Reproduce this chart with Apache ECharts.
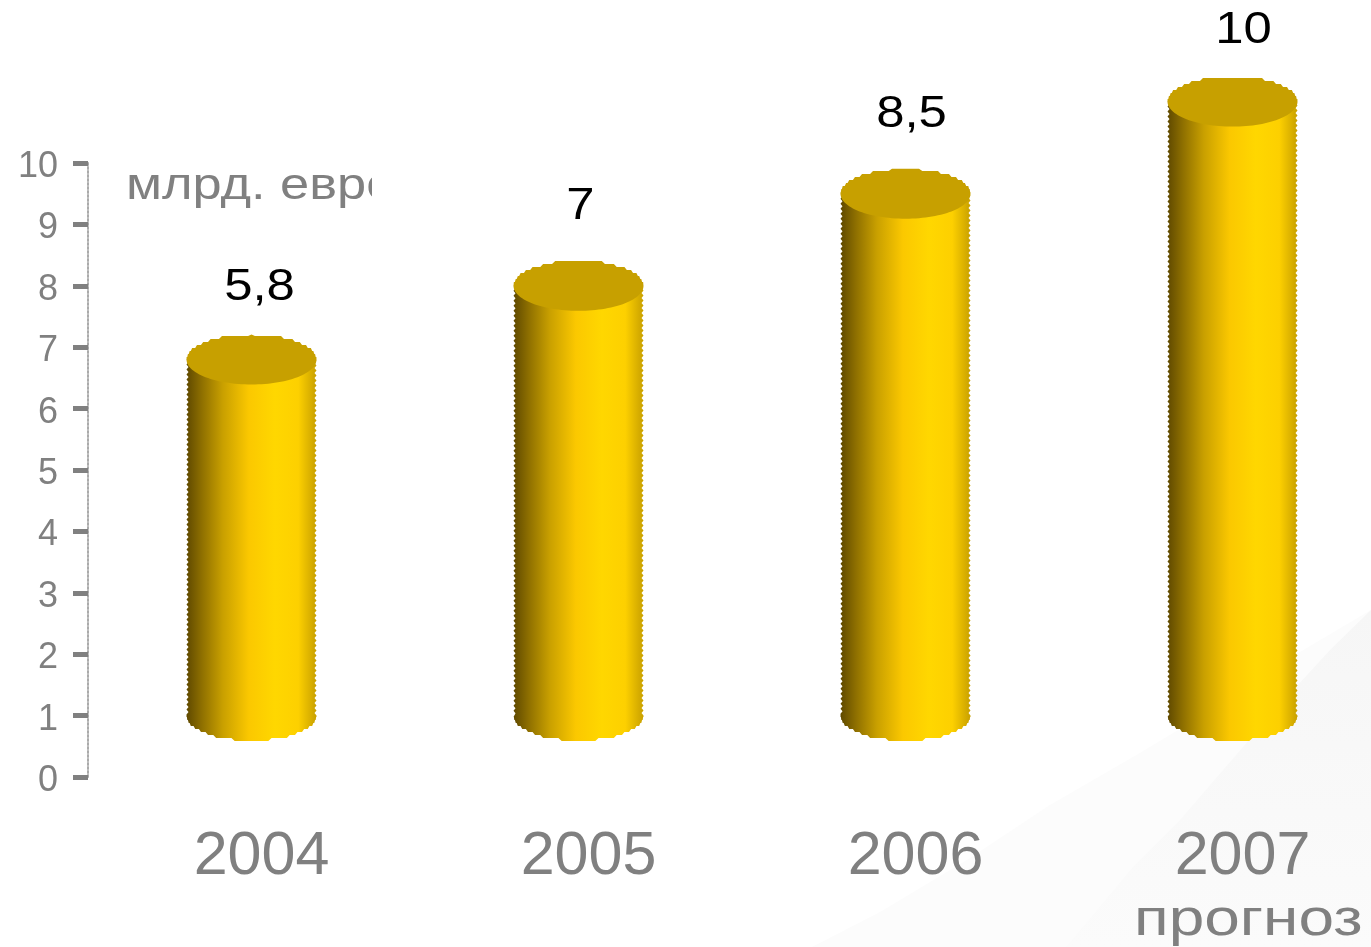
<!DOCTYPE html>
<html>
<head>
<meta charset="utf-8">
<style>html,body{margin:0;padding:0;background:#fff}#c{width:1371px;height:947px}</style>
<script src="https://cdn.jsdelivr.net/npm/echarts@6/dist/echarts.min.js"></script>
</head>
<body>
<div id="c"></div>
<script>
const years = ['2004', '2005', '2006', '2007'];
const values = [5.8, 7, 8.5, 10];
const yTicks = [0, 10, 1];
const unitText = 'млрд. евро';
const forecastText = 'прогноз';

// The cylinders stand on the "1" tick of the axis in the original picture.
const cylinderBase = 1;
const labelNudge = [[8, -72], [2, -79], [6, -79], [11, -71]];

const FONT = '"Liberation Sans", Arial, sans-serif';
const GREY = '#808080';
const RX = 65, RY = 25;

const sideFill = new echarts.graphic.LinearGradient(0, 0, 1, 0, [
  { offset: 0, color: '#5f4900' },
  { offset: 0.12, color: '#8f7000' },
  { offset: 0.28, color: '#c9a000' },
  { offset: 0.48, color: '#fbc800' },
  { offset: 0.68, color: '#ffd700' },
  { offset: 0.86, color: '#fdd000' },
  { offset: 1, color: '#c8a000' }
]);

function renderCylinder(params, api) {
  const i = api.value(0);
  const v = api.value(1);
  const bottom = api.coord([i, cylinderBase]);
  const top = api.coord([i, cylinderBase + v]);
  const cx = bottom[0], yB = bottom[1], yT = top[1];

  const pts = [];
  for (let y = yT, k = 0; y < yB; y += 2.5, k++) pts.push([cx - RX + (k % 2 ? 2 : 0), y]);
  for (let a = 180; a >= 0; a -= 3) {
    const r = a * Math.PI / 180;
    const sy = Math.round((yB + RY * Math.sin(r)) / 3) * 3;
    pts.push([cx + RX * Math.cos(r), sy]);
  }
  for (let y = yB, k = 0; y > yT; y -= 2.5, k++) pts.push([cx + RX - (k % 2 ? 2 : 0), y]);

  const capPts = [];
  for (let a = 0; a < 360; a += 3) {
    const r = a * Math.PI / 180;
    const raw = yT + RY * Math.sin(r);
    capPts.push([cx + RX * Math.cos(r), a > 180 ? Math.max(yT - RY, Math.round(raw / 3) * 3) : raw]);
  }

  const nudge = labelNudge[i];
  return {
    type: 'group',
    children: [
      { type: 'polygon', shape: { points: pts }, style: { fill: sideFill } },
      { type: 'polygon', shape: { points: capPts }, style: { fill: '#c7a000' } },
      {
        type: 'text',
        x: cx + nudge[0], y: yT + nudge[1],
        scaleX: 1.13,
        style: {
          text: String(v).replace('.', ','),
          font: '45px ' + FONT,
          fill: '#000',
          align: 'center', verticalAlign: 'middle'
        }
      }
    ]
  };
}

const chart = echarts.init(document.getElementById('c'), null, { renderer: 'canvas' });
chart.setOption({
  animation: false,
  backgroundColor: '#ffffff',
  grid: [
    { left: 88, top: 163, width: 1308, height: 614, outerBoundsMode: 'none' },
    // Same scale, set a few pixels lower: carries the y tick labels, which sit below their ticks in the original.
    { left: 88, top: 167, width: 1308, height: 614, outerBoundsMode: 'none' }
  ],
  xAxis: [
    {
      type: 'category',
      data: years,
      axisLine: { show: false },
      axisTick: { show: false },
      axisLabel: {
        interval: 0,
        color: GREY,
        fontFamily: FONT,
        fontSize: 61,
        margin: 50,
        padding: [0, 0, 0, 20]
      }
    },
    { type: 'category', gridIndex: 1, data: years, show: false }
  ],
  yAxis: [
    {
      type: 'value',
      min: yTicks[0],
      max: yTicks[1],
      interval: yTicks[2],
      splitLine: { show: false },
      axisLine: { show: true, lineStyle: { color: '#aaaaaa', type: 'dotted', width: 2 } },
      axisTick: { show: true, length: 15, lineStyle: { color: GREY, width: 5 } },
      axisLabel: { show: false }
    },
    {
      type: 'value',
      gridIndex: 1,
      min: yTicks[0],
      max: yTicks[1],
      interval: yTicks[2],
      splitLine: { show: false },
      axisLine: { show: false },
      axisTick: { show: false },
      axisLabel: { color: GREY, fontFamily: FONT, fontSize: 36, margin: 30 }
    }
  ],
  graphic: [
    {
      type: 'polygon', silent: true, z: -10,
      shape: { points: [[812,947],[880,912],[967,860],[1050,805],[1133,757],[1220,705],[1300,652],[1371,610],[1371,947]] },
      style: { fill: '#fcfcfc' }
    },
    {
      type: 'polygon', silent: true, z: -9,
      shape: { points: [[1066,947],[1133,867],[1180,820],[1217,777],[1275,710],[1330,650],[1371,610],[1371,947]] },
      style: {
        fill: new echarts.graphic.LinearGradient(0, 0, 0, 1, [
          { offset: 0, color: '#f6f6f6' },
          { offset: 1, color: '#fbfbfb' }
        ])
      }
    },
    {
      type: 'text', z: 1, x: 126, y: 165, scaleX: 1.19,
      style: { text: unitText, font: '44px ' + FONT, fill: GREY }
    },
    {
      type: 'rect', z: 2, silent: true,
      shape: { x: 372, y: 160, width: 60, height: 60 },
      style: { fill: '#fff' }
    },
    {
      type: 'text', z: 1, x: 1134, y: 895, scaleX: 1.23,
      style: { text: forecastText, font: '52px ' + FONT, fill: GREY }
    }
  ],
  series: [{
    type: 'custom',
    clip: false,
    z: 5,
    renderItem: renderCylinder,
    encode: { x: 0, y: 1 },
    data: years.map((y, i) => [y, values[i]])
  }]
});
</script>
</body>
</html>
